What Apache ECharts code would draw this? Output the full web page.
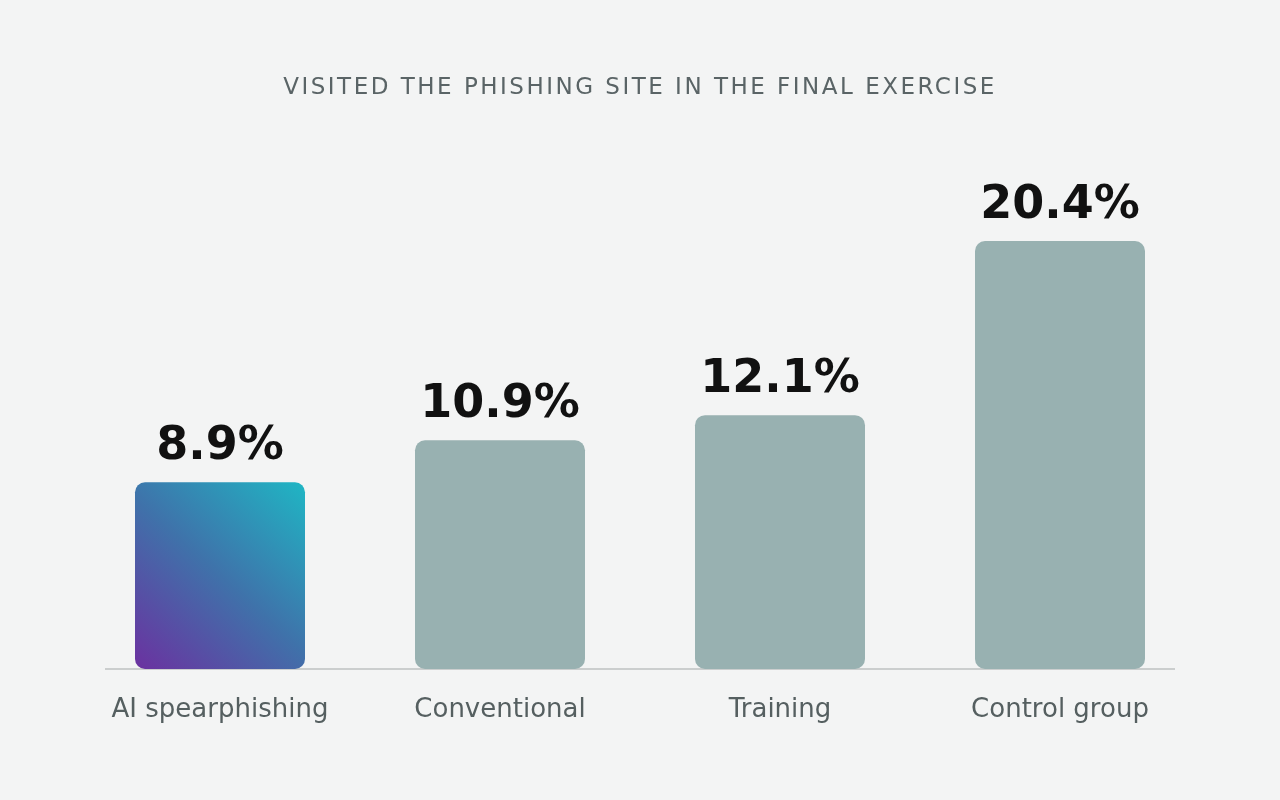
<!DOCTYPE html>
<html>
<head>
<meta charset="utf-8">
<script src="https://cdn.jsdelivr.net/npm/echarts@6/dist/echarts.min.js"></script>
<style>
  html, body { margin: 0; padding: 0; background: #f3f4f4; }
  #wrap { position: relative; width: 1280px; height: 800px; }
  #chart { width: 1280px; height: 800px; }
  #title {
    position: absolute; left: 0; top: 73px; width: 1280px; text-align: center;
    font-family: "DejaVu Sans", sans-serif; font-size: 23px; letter-spacing: 2.5px;
    color: #5a6466; pointer-events: none;
  }
</style>
</head>
<body>
<div id="wrap">
  <div id="chart"></div>
  <div id="title">VISITED THE PHISHING SITE IN THE FINAL EXERCISE</div>
</div>
<script>
var categories = ['AI spearphishing', 'Conventional', 'Training', 'Control group'];
var visited = [8.9, 10.9, 12.1, 20.4];

var chart = echarts.init(document.getElementById('chart'));

var highlight = new echarts.graphic.LinearGradient(0, 1, 1, 0, [
  { offset: 0, color: '#6b31a0' },
  { offset: 0.5, color: '#3f72aa' },
  { offset: 1, color: '#1fb6c4' }
]);

var barData = visited.map(function (v, i) {
  return {
    value: v,
    itemStyle: { color: i === 0 ? highlight : '#98b1b1' }
  };
});

chart.setOption({
  backgroundColor: '#f3f4f4',
  grid: { left: 80, right: 80, top: 241, bottom: 131 },
  xAxis: {
    type: 'category',
    data: categories,
    axisLine: { show: false },
    axisTick: { show: false },
    axisLabel: {
      interval: 0,
      color: '#555f60',
      fontFamily: 'DejaVu Sans',
      fontSize: 26,
      margin: 28
    }
  },
  yAxis: {
    type: 'value',
    min: 0,
    max: 20.4,
    show: false,
    splitLine: { show: false }
  },
  graphic: [{
    type: 'line',
    z: 0,
    shape: { x1: 105, y1: 669, x2: 1175, y2: 669 },
    style: { stroke: '#cbcece', lineWidth: 2 }
  }],
  series: [{
    type: 'bar',
    data: barData,
    barWidth: 170,
    z: 5,
    itemStyle: { borderRadius: 10 },
    label: {
      show: true,
      position: 'top',
      distance: 12,
      formatter: '{c}%',
      color: '#111111',
      fontFamily: 'DejaVu Sans',
      fontWeight: 'bold',
      fontSize: 46
    }
  }]
});
</script>
</body>
</html>
